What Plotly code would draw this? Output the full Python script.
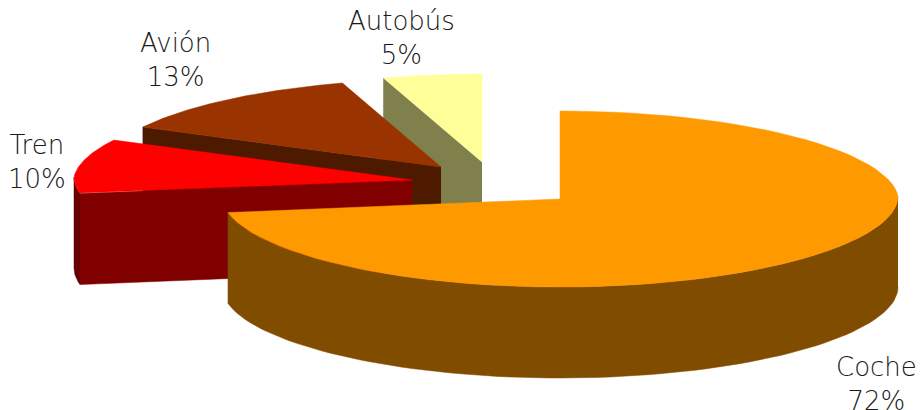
import numpy as np
import plotly.graph_objects as go

categories = ["Coche", "Tren", "Avión", "Autobús"]
values = [72, 10, 13, 5]

top_colors = ["#FF9900", "#FF0000", "#993300", "#FFFF99"]
side_colors = ["#804D00", "#800000", "#4D1A00", "#80804D"]

# where each slice's tip ends up once exploded, and the label anchors
tips = [(560, 199), (412, 180), (441, 167), (482, 162)]
label_pos = [(876, 384), (37, 162), (175, 60), (401, 38)]

RY = 88
DEPTH = 91


def rim(tip, a0, a1, n=80):
    t = np.radians(np.linspace(a0, a1, n))
    # slight perspective: the far side of the pie is narrower
    rx = 338 - 20 * np.maximum(np.cos(t), 0)
    return tip[0] + rx * np.sin(t), tip[1] - RY * np.cos(t) - 3 * np.sin(t) ** 2


def poly(fig, xs, ys, color):
    fig.add_trace(go.Scatter(x=list(xs), y=list(ys), mode="lines", fill="toself",
                             fillcolor=color, line=dict(color=color, width=0.5),
                             hoverinfo="skip", showlegend=False))


fig = go.Figure()

total = sum(values)
edges = np.cumsum([0] + values) / total * 360

# back to front: Autobús, Avión, Tren, Coche
for i in [3, 2, 1, 0]:
    tip = tips[i]
    a0, a1 = edges[i], edges[i + 1]
    x, y = rim(tip, a0, a1)

    if i == 0:
        # outer wall from the right side round to the end of the slice
        wx, wy = rim(tip, 90, a1)
        poly(fig, np.r_[wx, wx[::-1]], np.r_[wy, wy[::-1] + DEPTH], side_colors[i])
    else:
        # cut face on the leading edge, seen from the front
        poly(fig, [tip[0], x[0], x[0], tip[0]],
             [tip[1], y[0], y[0] + DEPTH, tip[1] + DEPTH], side_colors[i])
        if a0 < 270:
            wx, wy = rim(tip, a0, 270, 20)
            poly(fig, np.r_[wx, wx[::-1]], np.r_[wy, wy[::-1] + DEPTH], "#660000")

    poly(fig, np.r_[tip[0], x, tip[0]], np.r_[tip[1], y, tip[1]], top_colors[i])

for name, val, (lx, ly) in zip(categories, values, label_pos):
    fig.add_annotation(x=lx, y=ly, text=f"{name}<br>{round(val / total * 100)}%",
                       showarrow=False, xanchor="center", yanchor="middle",
                       font=dict(family="DejaVu Sans Light, DejaVu Sans", size=26,
                                 weight=200, color="#1a1a1a"))

fig.update_xaxes(range=[0, 922], visible=False, fixedrange=True)
fig.update_yaxes(range=[410, 0], visible=False, fixedrange=True)
fig.update_layout(width=922, height=410, margin=dict(l=0, r=0, t=0, b=0),
                  paper_bgcolor="white", plot_bgcolor="white")

fig.write_html("out.html", config={"displayModeBar": False},
               post_script="document.body.style.margin='0';document.body.style.overflow='hidden';")
